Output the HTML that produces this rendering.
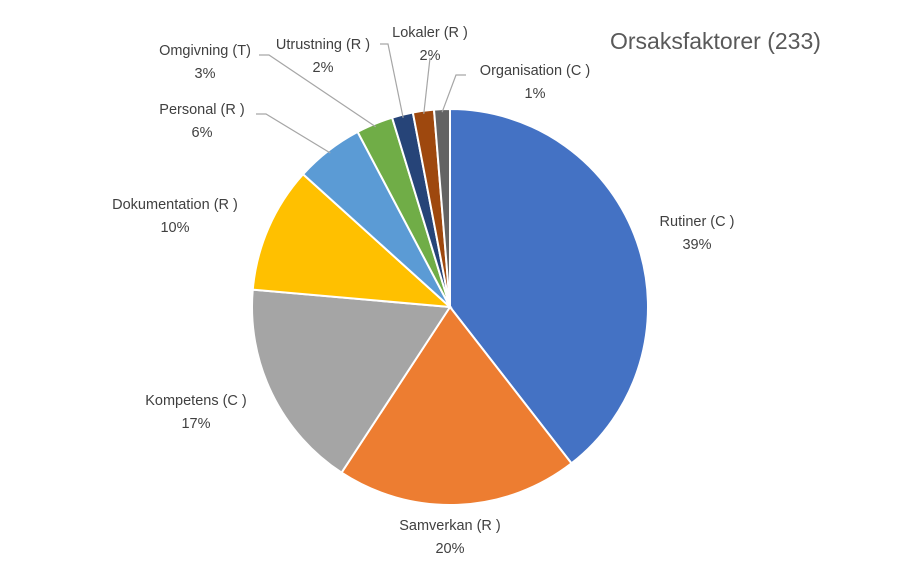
<!DOCTYPE html>
<html><head><meta charset="utf-8"><style>
body{margin:0;background:#fff;}
svg text{font-family:"Liberation Sans",sans-serif;}
</style></head><body>
<svg width="900" height="561" viewBox="0 0 900 561">
<text x="610" y="49" font-size="23" fill="#595959">Orsaksfaktorer (233)</text>
<g id="slices"></g>
<g id="leaders" stroke="#a6a6a6" stroke-width="1.2" fill="none"></g>
<g id="labels" font-size="14.5" fill="#404040" text-anchor="middle"></g>
</svg>
<script>
const categories=["Rutiner (C )","Samverkan (R )","Kompetens (C )","Dokumentation (R )","Personal (R )","Omgivning (T)","Utrustning (R )","Lokaler (R )","Organisation (C )"];
const counts=[92,46,40,24,13,7,4,4,3];
const percentLabels=["39%","20%","17%","10%","6%","3%","2%","2%","1%"];
const colors=["#4472C4","#ED7D31","#A5A5A5","#FFC000","#5B9BD5","#70AD47","#264478","#9E480E","#636363"];
const labelPos=[[697,226],[450,530],[196,405],[175,209],[202,114],[205,55],[323,49],[430,37],[535,75]];
const leaders=[null,null,null,null,[[256,114],[266,114]],[[259,55],[269,55]],[[380,44],[388,44]],[[430,58],[430,58]],[[466,75],[456,75]]];
const cx=450,cy=307,r=198;
const ns="http://www.w3.org/2000/svg";
const total=counts.reduce((a,b)=>a+b,0);
function pt(a,rr){return [cx+rr*Math.sin(a),cy-rr*Math.cos(a)];}
let acc=0;
const gS=document.getElementById('slices'),gL=document.getElementById('leaders'),gT=document.getElementById('labels');
counts.forEach((v,i)=>{
  const a0=acc/total*2*Math.PI; acc+=v; const a1=acc/total*2*Math.PI;
  const p0=pt(a0,r),p1=pt(a1,r);
  const p=document.createElementNS(ns,'path');
  p.setAttribute('d',`M${cx},${cy}L${p0[0]},${p0[1]}A${r},${r} 0 ${a1-a0>Math.PI?1:0} 1 ${p1[0]},${p1[1]}Z`);
  p.setAttribute('fill',colors[i]);p.setAttribute('stroke','#fff');p.setAttribute('stroke-width','2');
  
  
  gS.appendChild(p);
  const [lx,ly]=labelPos[i];
  const t=document.createElementNS(ns,'text');
  t.setAttribute('x',lx);t.setAttribute('y',ly);
  
  
  const s1=document.createElementNS(ns,'tspan');s1.setAttribute('x',lx);s1.textContent=categories[i];
  const s2=document.createElementNS(ns,'tspan');s2.setAttribute('x',lx);s2.setAttribute('dy','23');s2.textContent=percentLabels[i];
  t.appendChild(s1);t.appendChild(s2);gT.appendChild(t);
  if(leaders[i]){
    const e=pt((a0+a1)/2,r-3);
    const pl=document.createElementNS(ns,'polyline');
    pl.setAttribute('points',leaders[i].map(q=>q.join(',')).join(' ')+' '+e.join(','));
    
    
    gL.appendChild(pl);
  }
});
</script>
</body></html>
